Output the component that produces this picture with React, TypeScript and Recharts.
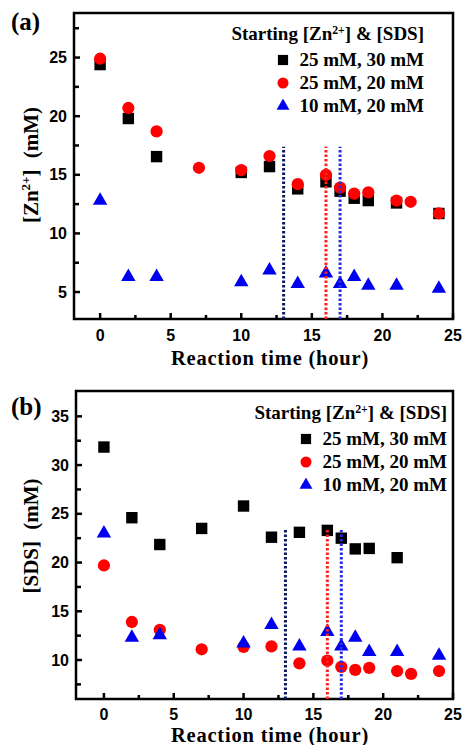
import React from 'react'
import { ScatterChart, Scatter, XAxis, YAxis, ReferenceLine, ReferenceArea, Legend, Symbols } from 'recharts'

// sampling times (hour)
const tSquaresZn = [0, 2, 4, 10, 12, 14, 16, 17, 18, 19, 21, 24]
const tSquaresSds = [0, 2, 4, 7, 10, 12, 14, 16, 17, 18, 19, 21]
const tCircles = [0, 2, 4, 7, 10, 12, 14, 16, 17, 18, 19, 21, 22, 24]
const tTriangles = [0, 2, 4, 10, 12, 14, 16, 17, 18, 19, 21, 24]

// (a) [Zn2+] (mM)
const znSquares = [24.4, 19.8, 16.55, 15.2, 15.7, 13.8, 14.4, 13.6, 13.0, 12.8, 12.6, 11.7]
const znCircles = [24.9, 20.7, 18.7, 15.6, 15.4, 16.6, 14.2, 15.0, 13.9, 13.4, 13.5, 12.8, 12.7, 11.7]
const znTriangles = [12.8, 6.3, 6.3, 5.85, 6.85, 5.7, 6.6, 5.7, 6.3, 5.55, 5.55, 5.3]

// (b) [SDS] (mM)
const sdsSquares = [31.85, 24.6, 21.85, 23.5, 25.8, 22.6, 23.1, 23.3, 22.5, 21.4, 21.45, 20.5]
const sdsCircles = [19.7, 13.9, 13.1, 11.1, 11.35, 11.4, 9.66, 9.93, 9.3, 8.98, 9.2, 8.87, 8.57, 8.87]
const sdsTriangles = [23.0, 12.3, 12.55, 11.7, 13.6, 11.4, 12.9, 11.4, 12.3, 10.85, 10.85, 10.45]

const seriesNames = ['25 mM, 30 mM', '25 mM, 20 mM', '10 mM, 20 mM']

// dotted markers at 13, 16 and 17 h
const markTimes = [13, 16, 17]
const markTopZn = 17.4
const markTopSds = 23.5

const xTicks = [0, 2.5, 5, 7.5, 10, 12.5, 15, 17.5, 20, 22.5, 25]
const znTicks = [5, 7.5, 10, 12.5, 15, 17.5, 20, 22.5, 25, 27.5]
const sdsTicks = [7.5, 10, 12.5, 15, 17.5, 20, 22.5, 25, 27.5, 30, 32.5, 35]

const toPoints = (xs: number[], ys: number[]) => xs.map((x, i) => ({ x, y: ys[i] }))

const SANS = '"Liberation Sans", Arial, sans-serif'
const SERIF = '"Liberation Serif", "Times New Roman", serif'
const markColors = ['#0b1a5e', '#ff2020', '#2a2ae6']

const symbolStyle = [
  { type: 'square', size: 130, fill: '#000000' },
  { type: 'circle', size: 118, fill: '#ff0000' },
  { type: 'triangle', size: 90, fill: '#0000f0' },
] as const

const makeShape = (i: number) => (props: any) => (
  <Symbols cx={props.cx} cy={props.cy} type={symbolStyle[i].type} size={symbolStyle[i].size} fill={symbolStyle[i].fill} />
)

const makeXTick = (labelGap: number) => (props: any) => {
  const { x, y, payload } = props
  const major = payload.value % 5 === 0
  return (
    <g>
      <line x1={x} x2={x} y1={y} y2={y - (major ? 6 : 4)} stroke="#000" strokeWidth={2.5} />
      {major && (
        <text x={x} y={y + labelGap} textAnchor="middle" fontFamily={SANS} fontWeight="bold" fontSize={16} fill="#000">
          {payload.value}
        </text>
      )}
    </g>
  )
}

const YTick = (props: any) => {
  const { x, y, payload } = props
  const major = payload.value % 5 === 0
  return (
    <g>
      <line x1={x} x2={x + (major ? 6 : 5)} y1={y} y2={y} stroke="#000" strokeWidth={2.5} />
      {major && (
        <text x={x - 7} y={y + 5.5} textAnchor="end" fontFamily={SANS} fontWeight="bold" fontSize={16} fill="#000">
          {payload.value}
        </text>
      )}
    </g>
  )
}

function LegendBox() {
  return (
    <div style={{ textAlign: 'right', fontFamily: SERIF, fontWeight: 'bold', fontSize: 19, color: '#000' }}>
      <div style={{ lineHeight: '28px', whiteSpace: 'nowrap' }}>
        Starting [Zn<sup style={{ fontSize: '0.62em', verticalAlign: '0.5em', lineHeight: 0 }}>2+</sup>] &amp; [SDS]
      </div>
      {seriesNames.map((name, i) => (
        <div key={name} style={{ display: 'flex', justifyContent: 'flex-end', alignItems: 'center', height: 23, whiteSpace: 'nowrap' }}>
          <svg width={14} height={14} style={{ marginRight: 9 }}>
            <Symbols cx={7} cy={7} type={symbolStyle[i].type} size={symbolStyle[i].size * 0.8} fill={symbolStyle[i].fill} />
          </svg>
          <span>{name}</span>
        </div>
      ))}
    </div>
  )
}

interface PanelProps {
  height: number
  marginTop: number
  axisHeight: number
  yAxisWidth: number
  xDomain: [number, number]
  yDomain: [number, number]
  yTicks: number[]
  squares: { x: number; y: number }[]
  circles: { x: number; y: number }[]
  triangles: { x: number; y: number }[]
  markTop: number
  panel: string
  yTitle: React.ReactNode
  yTitleY: number
  xTitleY: number
  tickGap: number
  panelY: number
  legendLeft: number
  legendTop: number
}

function Panel(p: PanelProps) {
  const XTick = makeXTick(p.tickGap)
  return (
    <ScatterChart width={463} height={p.height} margin={{ top: p.marginTop, right: 10, bottom: 0, left: 0 }}>
      <XAxis
        type="number"
        dataKey="x"
        domain={p.xDomain}
        ticks={xTicks}
        interval={0}
        tick={<XTick />}
        tickSize={0}
        tickMargin={0}
        tickLine={false}
        axisLine={false}
        height={p.axisHeight}
        allowDataOverflow
      />
      <YAxis
        type="number"
        dataKey="y"
        domain={p.yDomain}
        ticks={p.yTicks}
        interval={0}
        tick={<YTick />}
        tickSize={0}
        tickMargin={0}
        tickLine={false}
        axisLine={false}
        width={p.yAxisWidth}
        allowDataOverflow
      />
      <ReferenceArea
        x1={p.xDomain[0]}
        x2={p.xDomain[1]}
        y1={p.yDomain[0]}
        y2={p.yDomain[1]}
        fill="none"
        stroke="#000"
        strokeWidth={2.5}
        fillOpacity={0}
      />
      <Scatter name={seriesNames[0]} data={p.squares} shape={makeShape(0)} isAnimationActive={false} />
      <Scatter name={seriesNames[1]} data={p.circles} shape={makeShape(1)} isAnimationActive={false} />
      <Scatter name={seriesNames[2]} data={p.triangles} shape={makeShape(2)} isAnimationActive={false} />
      {markTimes.map((t, i) => (
        <ReferenceLine
          key={t}
          segment={[{ x: t, y: p.yDomain[0] }, { x: t, y: p.markTop }]}
          stroke={markColors[i]}
          strokeWidth={3}
          strokeDasharray="2.5 2"
          zIndex={700}
        />
      ))}
      <Legend
        layout="vertical"
        align="center"
        verticalAlign="middle"
        width={230}
        wrapperStyle={{ left: p.legendLeft, top: p.legendTop }}
        content={() => <LegendBox />}
      />
      <text
        x={270}
        y={p.xTitleY}
        textAnchor="middle"
        fontFamily={SERIF}
        fontWeight="bold"
        fontSize={20.5}
        letterSpacing={0.8}
        fill="#000"
      >
        Reaction time (hour)
      </text>
      <text
        x={38}
        y={p.yTitleY}
        transform={`rotate(-90, 38, ${p.yTitleY})`}
        textAnchor="middle"
        fontFamily={SERIF}
        fontWeight="bold"
        fontSize={21}
        fill="#000"
      >
        {p.yTitle}
      </text>
      <text x={11} y={p.panelY} fontFamily={SERIF} fontWeight="bold" fontSize={25} fill="#000">
        {p.panel}
      </text>
    </ScatterChart>
  )
}

export default function App() {
  return (
    <div style={{ position: 'absolute', left: 0, top: 0, width: 463, height: 745, background: '#fff' }}>
      <Panel
        height={370}
        marginTop={13}
        axisHeight={51}
        yAxisWidth={74}
        xDomain={[-1.85, 25]}
        yDomain={[2.7, 28.8]}
        yTicks={znTicks}
        squares={toPoints(tSquaresZn, znSquares)}
        circles={toPoints(tCircles, znCircles)}
        triangles={toPoints(tTriangles, znTriangles)}
        markTop={markTopZn}
        panel="(a)"
        yTitle={
          <>
            [Zn<tspan dy={-8} fontSize={13}>2+</tspan>
            <tspan dy={8}>]</tspan>
            <tspan dx={6}> (mM)</tspan>
          </>
        }
        yTitleY={165}
        xTitleY={365}
        tickGap={22}
        panelY={30}
        legendLeft={194}
        legendTop={20}
      />
      <Panel
        height={375}
        marginTop={21}
        axisHeight={46}
        yAxisWidth={76}
        xDomain={[-2, 25]}
        yDomain={[6, 37.6]}
        yTicks={sdsTicks}
        squares={toPoints(tSquaresSds, sdsSquares)}
        circles={toPoints(tCircles, sdsCircles)}
        triangles={toPoints(tTriangles, sdsTriangles)}
        markTop={markTopSds}
        panel="(b)"
        yTitle={
          <>
            [SDS]<tspan dx={6}> (mM)</tspan>
          </>
        }
        yTitleY={166}
        xTitleY={372}
        tickGap={20.5}
        panelY={45}
        legendLeft={217}
        legendTop={29}
      />
    </div>
  )
}
